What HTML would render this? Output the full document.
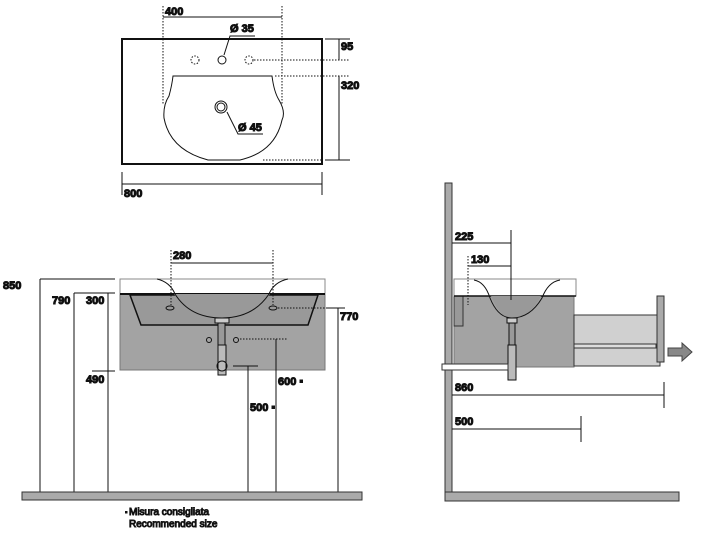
<!DOCTYPE html>
<html><head><style>body{margin:0;background:#fff}svg{display:block}text{font-family:"Liberation Sans",sans-serif;font-weight:bold;font-size:11px;fill:#111}text.n{font-weight:normal;font-size:10px}</style></head><body>
<svg width="707" height="545" viewBox="0 0 707 545" stroke="#111" fill="none" stroke-width="1">
<!-- TOP VIEW -->
<rect x="122" y="39" width="200" height="125" stroke-width="2"/>
<path d="M173,76 L272,76 Q274,92 279,100 Q286,112 282,120 Q275,152 240,160 L208,160 Q170,150 164,118 Q163,105 169,96 Q172,85 173,76Z"/>
<g stroke-dasharray="1.5,1.5">
<line x1="163" y1="6" x2="163" y2="105"/><line x1="282" y1="6" x2="282" y2="105"/>
<line x1="254" y1="60" x2="350" y2="60"/><line x1="275" y1="76" x2="350" y2="76"/><line x1="263" y1="160" x2="322" y2="160"/>
<circle cx="195" cy="60" r="4"/><circle cx="249" cy="60" r="4"/>
</g>
<line x1="163" y1="17" x2="282" y2="17"/><text x="165" y="15">400</text>
<circle cx="222" cy="60" r="4"/>
<path d="M224,55 L230,36 L255,36"/><text x="230" y="32">Ø 35</text>
<circle cx="221" cy="107" r="6"/><circle cx="221" cy="107" r="4"/>
<path d="M227,112 L238,134 L263,134"/><text x="238" y="131">Ø 45</text>
<line x1="339" y1="39" x2="339" y2="60"/><line x1="325" y1="39" x2="350" y2="39"/><text x="341" y="50">95</text>
<line x1="339" y1="76" x2="339" y2="160"/><line x1="325" y1="160" x2="350" y2="160"/><text x="341" y="89">320</text>
<line x1="122" y1="184" x2="322" y2="184"/><line x1="122" y1="172" x2="122" y2="195"/><line x1="322" y1="172" x2="322" y2="195"/><text x="124" y="197">800</text>
<!-- FRONT VIEW -->
<rect x="120" y="294" width="205" height="76" fill="#a3a3a3" stroke="#777"/>
<path d="M130,295 L318,295 L308,325 L141,325Z" fill="#999" stroke="#111" stroke-width="1.5"/>
<rect x="120" y="279" width="205" height="15" fill="#fff" stroke="#888"/>
<line x1="120" y1="294" x2="325" y2="294" stroke-width="2"/>
<path d="M174,294 Q190,318 222,318 Q255,318 270,294Z" fill="#999" stroke="none"/>
<path d="M157,279 Q170,282 175,294 Q190,318 222,318 Q253,318 269,294 Q274,282 288,279" stroke="#111"/>
<ellipse cx="170" cy="308" rx="4" ry="2"/><ellipse cx="273" cy="308" rx="4" ry="2"/>
<rect x="215" y="318" width="14" height="5" fill="#ccc"/>
<rect x="218" y="323" width="7" height="22" fill="#999"/>
<rect x="218" y="345" width="8" height="30" fill="#bbb"/>
<circle cx="222" cy="366" r="5"/>
<circle cx="209" cy="340" r="2.5"/><circle cx="236" cy="340" r="2.5"/>
<line x1="171" y1="250" x2="171" y2="305" stroke-dasharray="1.5,1.5"/><line x1="273" y1="250" x2="273" y2="305" stroke-dasharray="1.5,1.5"/>
<line x1="171" y1="263" x2="273" y2="263"/><text x="173" y="259">280</text>
<line x1="40" y1="279" x2="40" y2="492"/><line x1="40" y1="279" x2="115" y2="279"/><text x="3" y="289">850</text>
<line x1="74" y1="293" x2="74" y2="492"/><line x1="74" y1="293" x2="115" y2="293"/><text x="52" y="304">790</text>
<line x1="108" y1="293" x2="108" y2="492"/><text x="86" y="304">300</text>
<line x1="92" y1="371" x2="115" y2="371"/><text x="86" y="383">490</text>
<line x1="278" y1="308" x2="330" y2="308" stroke-dasharray="1.5,1.5"/><line x1="326" y1="308" x2="345" y2="308"/>
<line x1="338" y1="308" x2="338" y2="492"/><text x="340" y="320">770</text>
<line x1="240" y1="339" x2="287" y2="339" stroke-dasharray="1.5,1.5"/><line x1="276" y1="339" x2="276" y2="492"/><text x="278" y="385">600</text><rect x="300" y="380" width="2.5" height="2.5" fill="#111"/>
<line x1="233" y1="366" x2="258" y2="366"/><line x1="248" y1="366" x2="248" y2="492"/><text x="250" y="411">500</text><rect x="272" y="406" width="2.5" height="2.5" fill="#111"/>
<rect x="22" y="492" width="340" height="8" fill="#aaa" stroke="#333"/>
<rect x="125" y="511" width="2.5" height="2.5" fill="#111" stroke="none"/>
<text class="n" x="129" y="515">Misura consigliata</text>
<text class="n" x="129" y="527">Recommended size</text>
<!-- SIDE VIEW -->
<rect x="445" y="183" width="7" height="318" fill="#aaa" stroke="#333"/>
<rect x="445" y="492" width="234" height="9" fill="#aaa" stroke="#333"/>
<rect x="454" y="296" width="120" height="71" fill="#a3a3a3" stroke="#777"/>
<rect x="454" y="296" width="9" height="30" fill="#999" stroke="#333"/>
<rect x="574" y="315" width="86" height="51" fill="#d0d0d0" stroke="#333"/>
<rect x="574" y="344" width="82" height="4" fill="#ddd" stroke="#333"/>
<rect x="657" y="296" width="7" height="66" fill="#aaa" stroke="#333"/>
<path d="M668,348 L682,348 L682,343 L692,352 L682,361 L682,356 L668,356Z" fill="#888" stroke="#444"/>
<rect x="454" y="279" width="122" height="17" fill="#fff" stroke="#888"/>
<line x1="454" y1="296" x2="576" y2="296" stroke-width="1.5"/>
<path d="M491,296 Q500,318 512,318 Q530,318 541,296Z" fill="#999" stroke="none"/>
<path d="M474,280 Q485,282 490,298 Q498,318 512,318 Q530,318 542,298 Q548,282 560,280" stroke="#111"/>
<rect x="507" y="318" width="10" height="5" fill="#ccc"/>
<rect x="509" y="323" width="6" height="22" fill="#999"/>
<rect x="508" y="345" width="8" height="35" fill="#bbb"/>
<rect x="442" y="364" width="66" height="6" fill="#fff" stroke="#333"/>
<line x1="511" y1="230" x2="511" y2="300"/><line x1="452" y1="243" x2="511" y2="243"/><text x="455" y="240">225</text>
<line x1="468" y1="256" x2="468" y2="305" stroke-dasharray="1.5,1.5"/><line x1="468" y1="266" x2="511" y2="266"/><text x="471" y="263">130</text>
<line x1="452" y1="395" x2="664" y2="395"/><line x1="664" y1="382" x2="664" y2="408"/><text x="455" y="391">860</text>
<line x1="452" y1="429" x2="581" y2="429"/><line x1="581" y1="416" x2="581" y2="442"/><text x="455" y="425">500</text>
</svg>
</body></html>
